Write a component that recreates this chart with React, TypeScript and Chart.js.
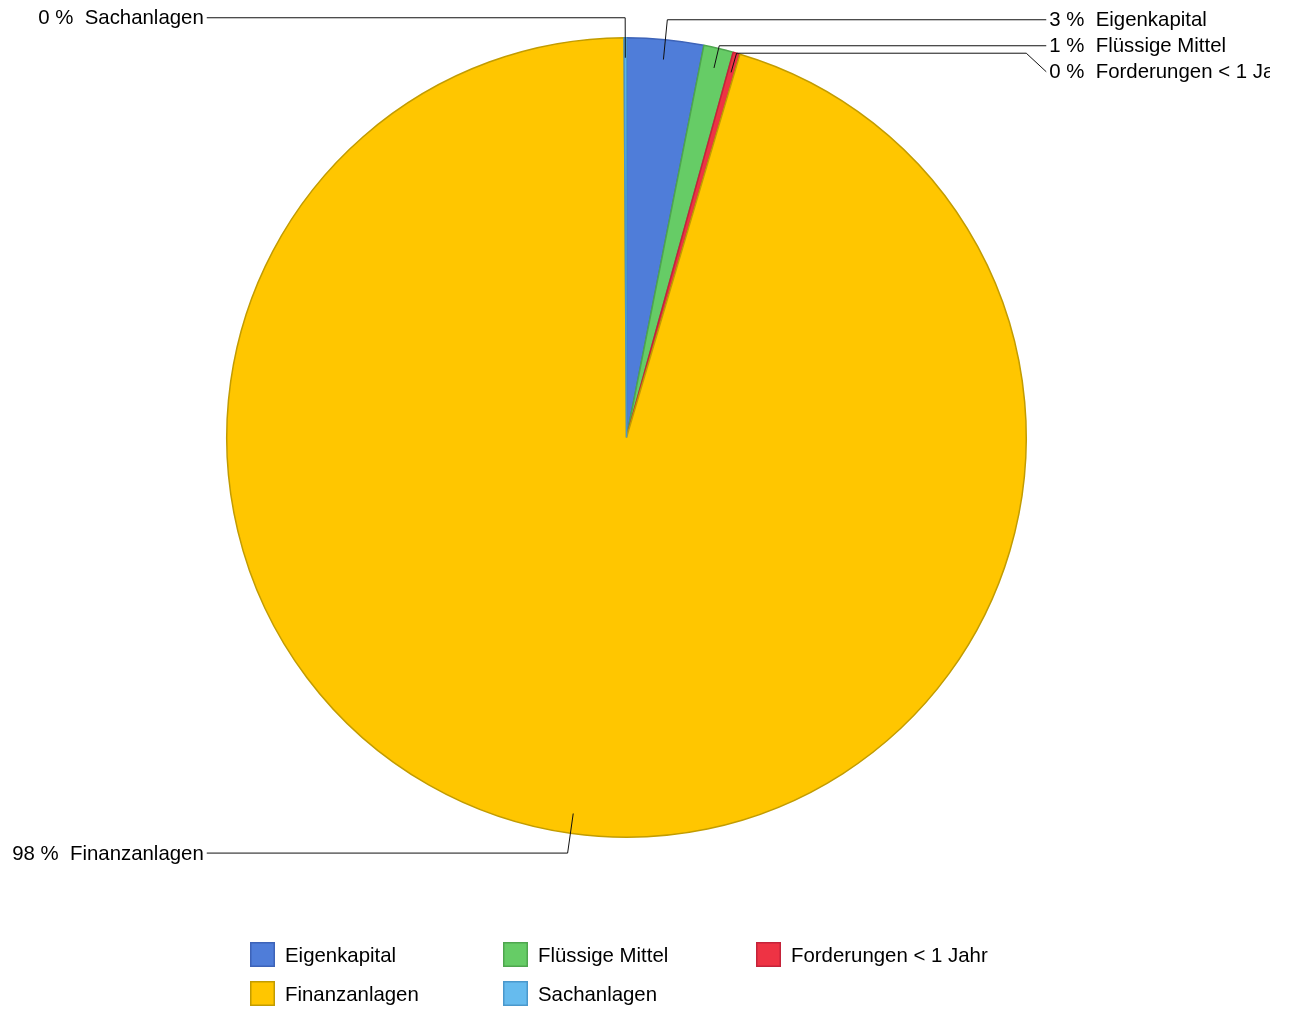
import React, { useEffect, useRef } from "react";
import { Chart, registerables } from "chart.js";

Chart.register(...registerables);

const categories = ["Eigenkapital", "Flüssige Mittel", "Forderungen < 1 Jahr", "Finanzanlagen", "Sachanlagen"];
const shares = [3.1, 1.2, 0.28, 95.32, 0.1];
const percentLabels = ["3 %", "1 %", "0 %", "98 %", "0 %"];
const fillColors = ["#4f7dd9", "#66cc66", "#ee3344", "#ffc600", "#66bbee"];
const edgeColors = ["#3d63b8", "#4ea64e", "#c4233a", "#c29c00", "#4a98cc"];

const W = 1291;
const H = 1009;
const FONT = '20.4px "Liberation Sans", Arial, sans-serif';

const labelPlugin = {
  id: "leaderLabels",
  afterDatasetsDraw(chart: any) {
    const ctx: CanvasRenderingContext2D = chart.ctx;
    const meta = chart.getDatasetMeta(0);
    type Item = { i: number; mid: number; side: number; ny: number; y: number };
    const items: Item[] = [];
    let cx = 0, cy = 0, R = 0;
    meta.data.forEach((arc: any, i: number) => {
      const p = arc.getProps(["x", "y", "startAngle", "endAngle", "outerRadius"], true);
      cx = p.x; cy = p.y; R = p.outerRadius;
      const mid = (p.startAngle + p.endAngle) / 2;
      const side = Math.cos(mid) >= 0 ? 1 : -1;
      const ny = cy + 1.05 * R * Math.sin(mid);
      items.push({ i, mid, side, ny, y: ny });
    });
    [1, -1].forEach((s) => {
      const group = items.filter((it) => it.side === s).sort((a, b) => a.ny - b.ny);
      let prev = -Infinity;
      group.forEach((it) => {
        it.y = Math.max(it.ny, prev + 26);
        prev = it.y;
      });
    });

    ctx.save();
    ctx.beginPath();
    ctx.rect(0, 0, 1270, H);
    ctx.clip();
    ctx.strokeStyle = "#111";
    ctx.lineWidth = 1;
    ctx.font = FONT;
    ctx.fillStyle = "#000";
    ctx.textBaseline = "middle";
    items.forEach((it) => {
      const sx = cx + 0.95 * R * Math.cos(it.mid);
      const sy = cy + 0.95 * R * Math.sin(it.mid);
      const endX = cx + it.side * (R + 20);
      const sin = Math.sin(it.mid);
      const rNeeded = Math.abs(sin) > 1e-6 ? (it.y - cy) / sin : Infinity;
      ctx.beginPath();
      ctx.moveTo(sx, sy);
      if (rNeeded >= R) {
        const ex = cx + rNeeded * Math.cos(it.mid);
        ctx.lineTo(ex, it.y);
        ctx.lineTo(endX, it.y);
      } else {
        const ex = cx + R * Math.cos(it.mid);
        const ey = cy + R * Math.sin(it.mid);
        ctx.lineTo(ex, ey);
        ctx.lineTo(endX - it.side * 20, ey);
        ctx.lineTo(endX, it.y);
      }
      ctx.stroke();
      const text = percentLabels[it.i] + "  " + categories[it.i];
      ctx.textAlign = it.side > 0 ? "left" : "right";
      ctx.fillText(text, endX + it.side * 3, it.y + 1);
    });
    ctx.restore();

    // legend
    ctx.save();
    ctx.font = FONT;
    ctx.textBaseline = "middle";
    ctx.textAlign = "left";
    categories.forEach((name, i) => {
      const col = i % 3;
      const row = Math.floor(i / 3);
      const x = 250 + col * 253;
      const y = 942 + row * 39;
      ctx.fillStyle = fillColors[i];
      ctx.fillRect(x, y, 25, 25);
      ctx.strokeStyle = edgeColors[i];
      ctx.lineWidth = 1.5;
      ctx.strokeRect(x + 0.75, y + 0.75, 23.5, 23.5);
      ctx.fillStyle = "#000";
      ctx.fillText(name, x + 35, y + 14);
    });
    ctx.restore();
  },
};

export default function App() {
  const ref = useRef<HTMLCanvasElement>(null);
  useEffect(() => {
    document.body.style.margin = "0";
    const chart = new Chart(ref.current as HTMLCanvasElement, {
      type: "pie",
      data: {
        labels: categories,
        datasets: [
          {
            data: shares,
            backgroundColor: fillColors,
            borderColor: edgeColors,
            borderWidth: 1.5,
          },
        ],
      },
      options: {
        animation: false,
        responsive: false,
        devicePixelRatio: 1,
        layout: { padding: { left: 226, right: 264, top: 37, bottom: 171 } },
        plugins: {
          legend: { display: false },
          tooltip: { enabled: false },
        },
      },
      plugins: [labelPlugin],
    });
    return () => chart.destroy();
  }, []);
  return (
    <div style={{ width: W, height: H, background: "#fff" }}>
      <canvas ref={ref} width={W} height={H} style={{ width: W, height: H, display: "block" }} />
    </div>
  );
}
